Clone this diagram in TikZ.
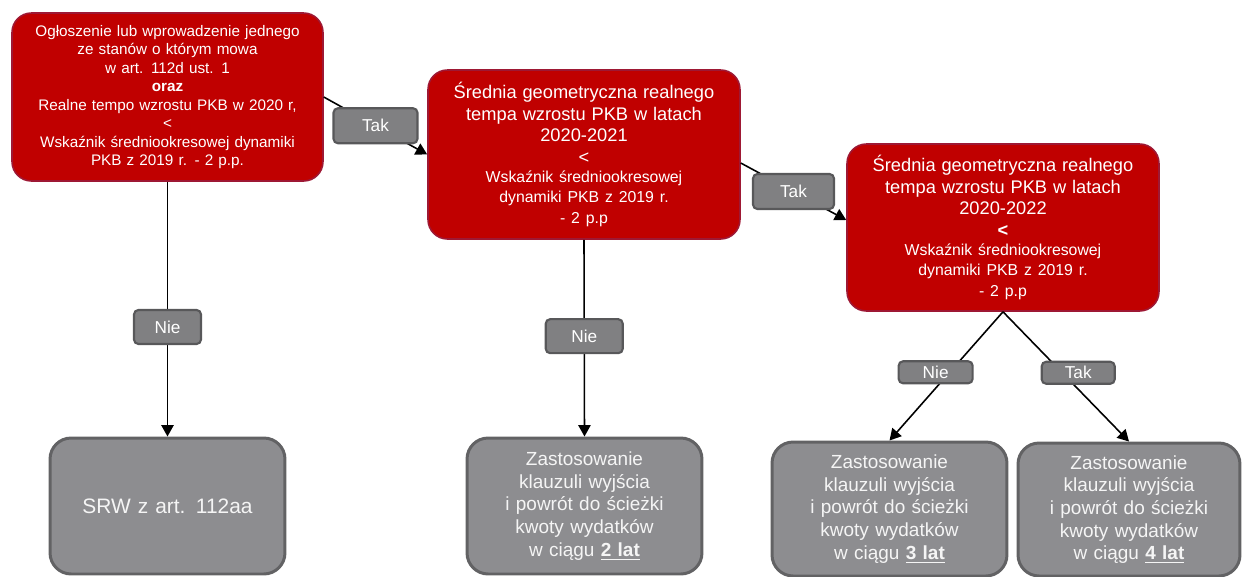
\documentclass[tikz,border=0pt]{standalone}
\usepackage{fontspec}
\setmainfont{Liberation Sans}
\usepackage{tikz}
\usetikzlibrary{arrows.meta}
\usetikzlibrary{positioning}
\definecolor{boxred}{RGB}{192,0,0}
\definecolor{redline}{RGB}{158,24,52}
\definecolor{boxgrey}{RGB}{141,141,144}
\definecolor{greyline}{RGB}{98,98,100}
\definecolor{lblgrey}{RGB}{128,128,130}
\definecolor{lblline}{RGB}{88,88,90}
\newcommand{\bigtxt}{\fontsize{10.4}{12.3}\selectfont}
\newcommand{\smalltxt}{\fontsize{9}{11.2}\selectfont}
\tikzset{redbox/.style={rectangle,rounded corners=11pt,draw=redline,line width=0.9pt,fill=boxred,text=white,align=center,text width=5.9cm,inner sep=2pt}}
\tikzset{greybox/.style={rectangle,rounded corners=12pt,draw=greyline,line width=1.7pt,fill=boxgrey,text=white!96!black,align=center,text width=4.4cm,inner sep=2pt,font=\fontsize{10.8}{12.9}\selectfont}}
\tikzset{lbl/.style={rectangle,rounded corners=2.5pt,draw=lblline,line width=1.2pt,fill=lblgrey,text=white,inner sep=0pt,font=\fontsize{9.8}{11}\selectfont}}
\tikzset{arr/.style={line width=0.9pt,-{Triangle[length=6.5pt,width=7pt]}}}

\begin{document}
\begin{tikzpicture}[x=0.02cm,y=-0.02cm]
\useasboundingbox (0,0) rectangle (1242,576);

% warunki (czerwone)
\node[redbox,minimum width=6.22cm,minimum height=3.36cm,font=\fontsize{8.7}{10.5}\selectfont] (warunek) at (167.5,97) {Ogłoszenie lub wprowadzenie jednego\\ ze stanów o którym mowa\\ w art. 112d ust. 1\\ \textbf{oraz}\\ Realne tempo wzrostu PKB w 2020 r,\\ <\\ Wskaźnik średniookresowej dynamiki\\ PKB z 2019 r. - 2 p.p.};
\node[redbox,minimum width=6.24cm,minimum height=3.38cm] (srednia1) at (584,154.5) {\bigtxt Średnia geometryczna realnego\\ tempa wzrostu PKB w latach\\ 2020-2021\\ <\par \smalltxt Wskaźnik średniookresowej\\ dynamiki PKB z 2019 r.\\ - 2 p.p};
\node[redbox,minimum width=6.24cm,minimum height=3.34cm] (srednia2) at (1003,227.5) {\bigtxt Średnia geometryczna realnego\\ tempa wzrostu PKB w latach\\ 2020-2022\\ \textbf{<}\par \smalltxt Wskaźnik średniookresowej\\ dynamiki PKB z 2019 r.\\ - 2 p.p};

% wyniki (szare)
\node[greybox,minimum width=4.7cm,minimum height=2.72cm,font=\fontsize{11.9}{14}\selectfont] (srw) at (167.5,506) {SRW z art. 112aa};
\node[greybox,minimum width=4.7cm,minimum height=2.72cm] (klauzula2) at (584.5,506) {Zastosowanie\\ klauzuli wyjścia\\ i powrót do ścieżki\\ kwoty wydatków\\ w ciągu \underline{\textbf{2 lat}}};
\node[greybox,minimum width=4.7cm,minimum height=2.68cm] (klauzula3) at (889.5,509) {Zastosowanie\\ klauzuli wyjścia\\ i powrót do ścieżki\\ kwoty wydatków\\ w ciągu \underline{\textbf{3 lat}}};
\node[greybox,minimum width=4.44cm,minimum height=2.66cm,text width=4.2cm] (klauzula4) at (1129,509.5) {Zastosowanie\\ klauzuli wyjścia\\ i powrót do ścieżki\\ kwoty wydatków\\ w ciągu \underline{\textbf{4 lat}}};

% strzalki
\draw[arr] (warunek.east) -- (srednia1.west) node[lbl,pos=0.5,minimum width=1.68cm,minimum height=0.7cm] (tak1) {Tak};
\draw[arr] ([yshift=-0.17cm]srednia1.east) -- ([yshift=0.15cm]srednia2.west) node[lbl,pos=0.5,minimum width=1.62cm,minimum height=0.7cm] (tak2) {Tak};
\draw[arr] (warunek.south) -- (srw.north) node[lbl,pos=0.57,minimum width=1.34cm,minimum height=0.68cm] (nie1) {Nie};
\draw[arr] (srednia1.south) -- (klauzula2.north) node[lbl,pos=0.49,minimum width=1.54cm,minimum height=0.68cm] (nie2) {Nie};
\draw[arr] (srednia2.south) -- (klauzula3.north) node[lbl,pos=0.47,xshift=-0.28cm,minimum width=1.48cm,minimum height=0.44cm] (nie3) {Nie};
\draw[arr] (srednia2.south) -- (klauzula4.north) node[lbl,pos=0.47,xshift=0.32cm,minimum width=1.46cm,minimum height=0.44cm] (tak3) {Tak};

\end{tikzpicture}
\end{document}
